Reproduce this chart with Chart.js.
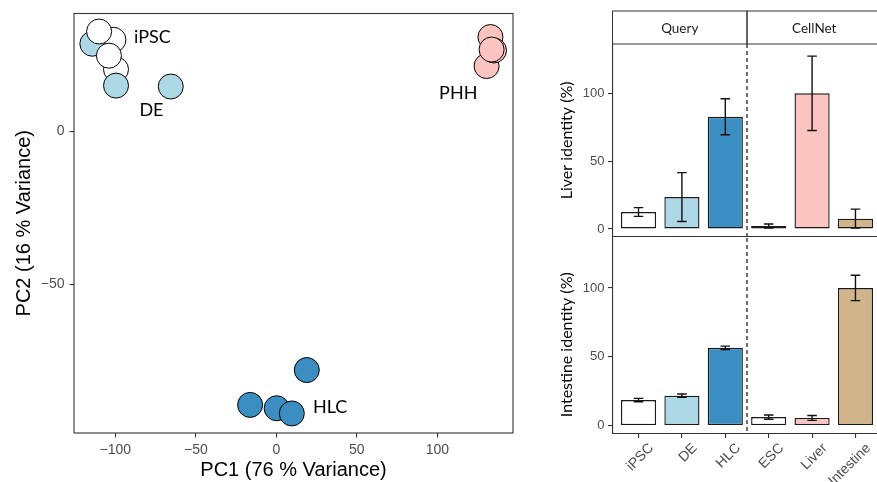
<!DOCTYPE html>
<html>
<head>
<meta charset="utf-8">
<script src="https://cdn.jsdelivr.net/npm/chart.js@4.4.1/dist/chart.umd.min.js"></script>
<style>
  html, body { margin: 0; padding: 0; background: #fff; width: 877px; height: 482px; overflow: hidden; position: relative; }
  canvas { position: absolute; }
  #pca { left: 0; top: 0; }
  #liver { left: 540px; top: 0; }
  #intestine { left: 540px; top: 226px; }
</style>
</head>
<body>
<canvas id="pca" width="530" height="482"></canvas>
<canvas id="liver" width="345" height="248"></canvas>
<canvas id="intestine" width="345" height="256"></canvas>
<script>
// PCA samples, listed in drawing order (later ones sit on top)
const pcaGroups = ['iPSC', 'DE', 'iPSC', 'DE', 'iPSC', 'iPSC', 'DE',
                   'PHH', 'PHH', 'PHH', 'PHH',
                   'HLC', 'HLC', 'HLC', 'HLC'];
const pcaX = [-101.2, -114.3, -99.6, -99.6, -104.0, -110.1, -65.6,
              133.0, 130.6, 135.2, 133.7,
              18.9, -16.3, 0.2, 9.6];
const pcaY = [30.0, 28.7, 20.3, 15.0, 24.8, 32.7, 14.7,
              30.9, 21.4, 26.5, 26.8,
              -78.1, -89.5, -90.6, -92.3];
const pcaXTicks = [-100, -50, 0, 50, 100];
const pcaYTicks = [-50, 0];

// group labels written inside the PCA panel (data units)
const pcaLabels = ['iPSC', 'DE', 'PHH', 'HLC'];
const pcaLabelX = [-77.0, -77.6, 113.0, 33.4];
const pcaLabelY = [31.0, 6.9, 12.6, -90.1];

// identity bars
const cellTypes = ['iPSC', 'DE', 'HLC', 'ESC', 'Liver', 'Intestine'];
const liverIdentity = [12.5, 23.5, 82.7, 2.2, 100, 7.6];
const liverSd = [3.2, 18, 13.3, 1.5, 27.4, 7];
const intestineIdentity = [18.6, 21.8, 56.5, 6.2, 5.6, 100];
const intestineSd = [1.2, 1.2, 1.3, 1.5, 1.8, 9.2];
const identityTicks = [0, 50, 100];
const stripLabels = ['Query', 'CellNet'];
const stripBreak = 2.5;

const groupColors = { iPSC: '#ffffff', DE: '#add8e6', HLC: '#3a8ec2', PHH: '#fbc4c0' };
const barColors = ['#ffffff', '#add8e6', '#3a8ec2', '#ffffff', '#fbc4c0', '#d2b48c'];
const lineGrey = '#333333';
const tickGrey = '#4d4d4d';
const arial = 'Liberation Sans, Arial, sans-serif';
const calibri = 'Lato, Carlito, sans-serif';

const minus = v => v < 0 ? '\u2212' + (-v) : String(v);

// box round the PCA panel + group labels
const pcaDecor = {
  id: 'pcaDecor',
  afterDatasetsDraw(chart) {
    const { ctx, chartArea: a, scales: { x, y } } = chart;
    ctx.save();
    ctx.fillStyle = '#000';
    ctx.font = '18px ' + calibri;
    ctx.textAlign = 'center';
    ctx.textBaseline = 'middle';
    pcaLabels.forEach((t, i) => {
      ctx.fillText(t, x.getPixelForValue(pcaLabelX[i]), y.getPixelForValue(pcaLabelY[i]));
    });
    ctx.strokeStyle = lineGrey;
    ctx.lineWidth = 1.1;
    ctx.strokeRect(a.left, a.top, a.right - a.left, a.bottom - a.top);
    ctx.restore();
  }
};

const errorBars = {
  id: 'errorBars',
  afterDatasetsDraw(chart, args, opts) {
    const { ctx, scales: { x, y } } = chart;
    const cap = Math.abs(x.getPixelForValue(0.11) - x.getPixelForValue(0));
    ctx.save();
    ctx.strokeStyle = '#111';
    ctx.lineWidth = 1.4;
    opts.values.forEach((v, i) => {
      const px = x.getPixelForValue(i);
      const lo = y.getPixelForValue(v - opts.sd[i]);
      const hi = y.getPixelForValue(v + opts.sd[i]);
      ctx.beginPath();
      ctx.moveTo(px, lo); ctx.lineTo(px, hi);
      ctx.moveTo(px - cap, lo); ctx.lineTo(px + cap, lo);
      ctx.moveTo(px - cap, hi); ctx.lineTo(px + cap, hi);
      ctx.stroke();
    });
    ctx.restore();
  }
};

const divider = {
  id: 'divider',
  afterDatasetsDraw(chart) {
    const { ctx, chartArea: a, scales: { x } } = chart;
    const px = x.getPixelForValue(stripBreak);
    ctx.save();
    ctx.strokeStyle = lineGrey;
    ctx.lineWidth = 1.4;
    ctx.setLineDash([4, 3]);
    ctx.beginPath();
    ctx.moveTo(px, a.top);
    ctx.lineTo(px, a.bottom);
    ctx.stroke();
    ctx.restore();
  }
};

const strips = {
  id: 'strips',
  afterDraw(chart, args, opts) {
    if (!opts.show) return;
    const { ctx, chartArea: a, scales: { x } } = chart;
    const mid = x.getPixelForValue(stripBreak);
    const top = a.top - 33;
    const edges = [a.left, mid, a.right];
    ctx.save();
    ctx.strokeStyle = lineGrey;
    ctx.lineWidth = 1;
    ctx.fillStyle = '#1a1a1a';
    ctx.font = '13.5px ' + calibri;
    ctx.textAlign = 'center';
    ctx.textBaseline = 'middle';
    stripLabels.forEach((t, i) => {
      ctx.strokeRect(edges[i], top, edges[i + 1] - edges[i], a.top - top);
      ctx.fillText(t, (edges[i] + edges[i + 1]) / 2, top + 17.5);
    });
    ctx.restore();
  }
};

const rowTitle = {
  id: 'rowTitle',
  afterDraw(chart, args, opts) {
    const { ctx, chartArea: a } = chart;
    ctx.save();
    ctx.translate(27.3, (a.top + a.bottom) / 2 + opts.shift);
    ctx.rotate(-Math.PI / 2);
    ctx.fillStyle = '#000';
    ctx.font = '16px ' + calibri;
    ctx.textAlign = 'center';
    ctx.textBaseline = 'middle';
    ctx.fillText(opts.text, 0, 0);
    ctx.restore();
  }
};

new Chart(document.getElementById('pca'), {
  type: 'scatter',
  data: {
    datasets: [{
      data: pcaX.map((v, i) => ({ x: v, y: pcaY[i] })),
      pointRadius: 12.5,
      pointBorderWidth: 1,
      pointBorderColor: '#000',
      pointBackgroundColor: pcaGroups.map(g => groupColors[g])
    }]
  },
  options: {
    responsive: false,
    animation: false,
    events: [],
    layout: { padding: { top: 13, right: 17, left: 0, bottom: 0 } },
    plugins: { legend: { display: false }, tooltip: { enabled: false } },
    scales: {
      x: {
        min: -125.7, max: 147,
        afterBuildTicks: s => { s.ticks = pcaXTicks.map(v => ({ value: v })); },
        afterFit: s => { s.height = 49; },
        ticks: { callback: minus, color: tickGrey, font: { family: arial, size: 14 }, padding: 4, maxRotation: 0 },
        grid: { drawOnChartArea: false, tickLength: 4.5, color: lineGrey, lineWidth: 1.1 },
        border: { display: false },
        title: { display: true, text: 'PC1 (76 % Variance)', color: '#000', font: { family: arial, size: 20 }, padding: { top: 0, bottom: 0 } }
      },
      y: {
        min: -98.7, max: 38.6,
        afterBuildTicks: s => { s.ticks = pcaYTicks.map(v => ({ value: v })); },
        afterFit: s => { s.width = 74; },
        ticks: { callback: minus, color: tickGrey, font: { family: arial, size: 14 }, padding: 5 },
        grid: { drawOnChartArea: false, tickLength: 4.5, color: lineGrey, lineWidth: 1.1 },
        border: { display: false },
        title: { display: true, text: 'PC2 (16 % Variance)', color: '#000', font: { family: arial, size: 20 }, padding: { top: 12, bottom: 0 } }
      }
    }
  },
  plugins: [pcaDecor]
});

function identityChart(id, values, sd, title, opt) {
  return new Chart(document.getElementById(id), {
    type: 'bar',
    data: {
      datasets: [{
        data: values.map((v, i) => ({ x: i, y: v })),
        backgroundColor: barColors,
        borderColor: '#1a1a1a',
        borderWidth: 1.4,
        borderSkipped: false,
        barPercentage: 0.81,
        categoryPercentage: 1
      }]
    },
    options: {
      responsive: false,
      animation: false,
      events: [],
      layout: { padding: opt.padding },
      plugins: {
        legend: { display: false },
        tooltip: { enabled: false },
        errorBars: { values, sd },
        strips: { show: opt.strips },
        rowTitle: { text: title, shift: opt.shift }
      },
      scales: {
        x: {
          type: 'linear',
          min: -0.6, max: 5.6,
          offset: false,
          afterBuildTicks: s => { s.ticks = cellTypes.map((c, i) => ({ value: i })); },
          afterFit: s => { s.height = opt.xHeight; },
          ticks: {
            display: opt.labels,
            callback: v => cellTypes[v],
            minRotation: 45, maxRotation: 45,
            labelOffset: 13,
            color: tickGrey, font: { family: arial, size: 14 }, padding: 2
          },
          grid: { display: opt.labels, offset: false, drawOnChartArea: false, tickLength: 4.5, color: lineGrey, lineWidth: 1.1 },
          border: { display: true, color: lineGrey, width: 1.1 }
        },
        y: {
          min: -5.7, max: 136.3,
          afterBuildTicks: s => { s.ticks = identityTicks.map(v => ({ value: v })); },
          afterFit: s => { s.width = 72.5; },
          ticks: { color: tickGrey, font: { family: arial, size: 13 }, padding: 3.5 },
          grid: { drawOnChartArea: false, tickLength: 4.5, color: lineGrey, lineWidth: 1.1 },
          border: { display: true, color: lineGrey, width: 1.1 }
        }
      }
    },
    plugins: [divider, errorBars, strips, rowTitle]
  });
}

identityChart('liver', liverIdentity, liverSd, 'Liver identity (%)',
  { padding: { top: 44, right: 3.5, left: 0, bottom: 10 }, xHeight: 0, labels: false, strips: true, shift: 0 });
identityChart('intestine', intestineIdentity, intestineSd, 'Intestine identity (%)',
  { padding: { top: 12, right: 3.5, left: 0, bottom: 0 }, xHeight: 48.5, labels: true, strips: false, shift: 9 });
</script>
</body>
</html>
